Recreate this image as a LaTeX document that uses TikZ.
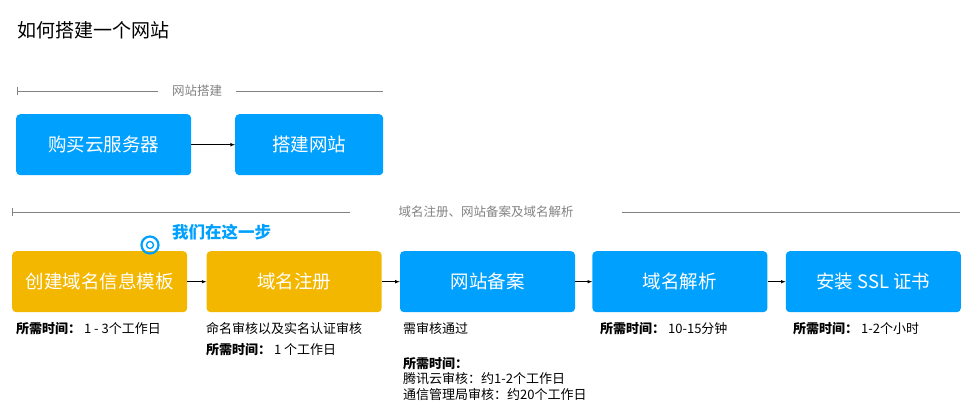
\documentclass[tikz,border=0pt]{standalone}
\usepackage{fontspec}
\setmainfont{Noto Sans CJK SC}
\usetikzlibrary{positioning}
\definecolor{skyblue}{RGB}{0,160,255}
\definecolor{amber}{RGB}{244,183,0}
\definecolor{rulegray}{RGB}{130,130,130}
\tikzset{
  stepbox/.style = {rounded corners = 4pt, minimum width = 175pt, minimum height = 61pt,
    inner sep = 0pt, text = white, font = \fontsize{18.5}{22}\selectfont},
  bluebox/.style = {stepbox, fill = skyblue},
  goldbox/.style = {stepbox, fill = amber},
  flow/.style = {-latex, semithick},
  note/.style = {anchor = north west, inner sep = 0pt, align = left, font = \fontsize{13}{17}\selectfont}
}
\begin{document}
\begin{tikzpicture}[x = 1pt, y = -1pt]
\useasboundingbox (0, 0) rectangle (970, 420);
\node [anchor = west, inner sep = 0pt, font = \fontsize{19}{22}\selectfont] (title) at (17, 30) {如何搭建一个网站};
% group rules
\draw [rulegray, thin] (17, 87) -- (17, 95);
\draw [rulegray, thin] (17, 91) -- (158, 91);
\draw [rulegray, thin] (236, 91) -- (383, 91);
\node [rulegray, font = \fontsize{12.5}{15}\selectfont] (webhead) at (197, 91) {网站搭建};
\draw [rulegray, thin] (12, 208) -- (12, 216);
\draw [rulegray, thin] (12, 212) -- (350, 212);
\draw [rulegray, thin] (622, 212) -- (960, 212);
\node [rulegray, font = \fontsize{12.5}{15}\selectfont] (domhead) at (486, 212) {域名注册、网站备案及域名解析};
% top row
\node [bluebox, minimum width = 175pt, anchor = north west] (server) at (16, 114) {购买云服务器};
\node [bluebox, minimum width = 148pt, anchor = north west] (site) at (235, 114) {搭建网站};
\draw [flow] (server) -- (site);
% bottom row
\node [goldbox, anchor = north west] (tmpl) at (12, 251) {创建域名信息模板};
\node [goldbox, right = 19pt of tmpl] (reg) {域名注册};
\node [bluebox, right = 18pt of reg] (icp) {网站备案};
\node [bluebox, right = 17pt of icp] (dns) {域名解析};
\node [bluebox, right = 18pt of dns] (ssl) {安装 SSL 证书};
\draw [flow] (tmpl) -- (reg);
\draw [flow] (reg) -- (icp);
\draw [flow] (icp) -- (dns);
\draw [flow] (dns) -- (ssl);
% marker
\node [circle, draw = skyblue, line width = 2.2pt, minimum size = 17pt, inner sep = 0pt] (here) at (150, 245) {};
\node [circle, draw = skyblue, line width = 1.4pt, minimum size = 7pt, inner sep = 0pt] at (here) {};
\node [anchor = west, inner sep = 0pt, text = skyblue, font = \bfseries\fontsize{16.5}{19}\selectfont] (herelbl) at (172, 232) {我们在这一步};
% notes
\node [note] (n1) at (16, 322) {\textbf{所需时间：} 1 - 3个工作日};
\node [note] (n2) at (206, 322) {命名审核以及实名认证审核\\[4pt]\textbf{所需时间：} 1 个工作日};
\node [note] (n3) at (403, 322) {需审核通过};
\node [note, font = \fontsize{13}{15.5}\selectfont] (n3b) at (403, 357) {\textbf{所需时间：}\\腾讯云审核：约1-2个工作日\\通信管理局审核：约20个工作日};
\node [note] (n4) at (600, 322) {\textbf{所需时间：} 10-15分钟};
\node [note] (n5) at (793, 322) {\textbf{所需时间：} 1-2个小时};
\end{tikzpicture}
\end{document}
